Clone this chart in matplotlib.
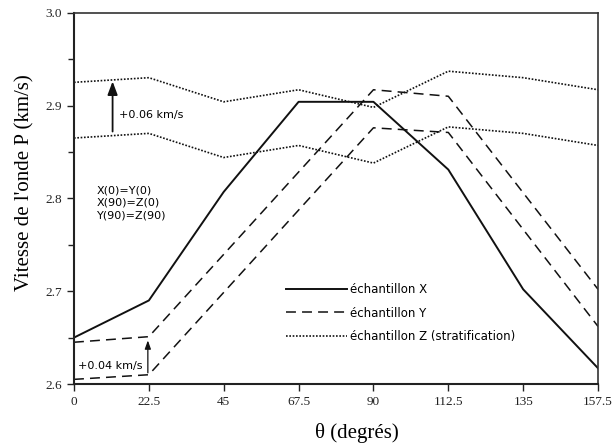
import matplotlib.pyplot as plt

# angles (degres)
theta = [0, 22.5, 45, 67.5, 90, 112.5, 135, 157.5]
theta_y = [0, 22.5, 90, 112.5, 157.5]

# echantillon X
vx = [2.650, 2.690, 2.807, 2.904, 2.904, 2.831, 2.702, 2.617]
# echantillon Y (deux courbes, decalage +0.04 km/s)
vy_haut = [2.645, 2.651, 2.917, 2.910, 2.702]
vy_bas = [2.605, 2.610, 2.876, 2.871, 2.662]
# echantillon Z (deux courbes, decalage +0.06 km/s)
vz_haut = [2.925, 2.930, 2.904, 2.917, 2.898, 2.937, 2.930, 2.917]
vz_bas = [2.865, 2.870, 2.844, 2.857, 2.838, 2.877, 2.870, 2.857]

xticks = [0, 22.5, 45, 67.5, 90, 112.5, 135, 157.5]
xticklabels = ["0", "22.5", "45", "67.5", "90", "112.5", "135", "157.5"]
yticks = [2.6, 2.7, 2.8, 2.9, 3.0]

fig = plt.figure(figsize=(6.14, 4.46), dpi=100)
ax = fig.add_axes([0.1205, 0.139, 0.8535, 0.8325])

ax.plot(theta, vx, color="#111111", lw=1.4, label="échantillon X")
ax.plot(theta_y, vy_haut, color="#111111", lw=1.1, dashes=(6.5, 4),
        label="échantillon Y")
ax.plot(theta_y, vy_bas, color="#111111", lw=1.1, dashes=(6.5, 4))
ax.plot(theta, vz_haut, color="#111111", lw=1.2, dashes=(1.0, 1.0),
        label="échantillon Z (stratification)")
ax.plot(theta, vz_bas, color="#111111", lw=1.2, dashes=(1.0, 1.0))

ax.set_xlim(0, 157.5)
ax.set_ylim(2.6, 3.0)
ax.set_xticks(xticks)
ax.set_xticklabels(xticklabels)
ax.set_yticks(yticks)
ax.set_yticks([2.65, 2.75, 2.85, 2.95], minor=True)
ax.set_yticklabels(["2.6", "2.7", "2.8", "2.9", "3.0"])

serif = "Liberation Serif"
for lab in ax.get_xticklabels() + ax.get_yticklabels():
    lab.set_family(serif)
    lab.set_fontsize(9.5)
ax.tick_params(axis="both", which="both", direction="out", length=5,
               width=1.0, color="#222222", labelcolor="#222222")
ax.tick_params(axis="y", which="minor", length=4)

for s in ["left", "bottom"]:
    ax.spines[s].set_linewidth(1.5)
    ax.spines[s].set_color("#222222")
for s in ["top", "right"]:
    ax.spines[s].set_linewidth(1.2)
    ax.spines[s].set_color("#333333")

ax.set_ylabel("Vitesse de l'onde P (km/s)", family=serif, fontsize=15)
ax.set_xlabel("θ (degrés)", family=serif, fontsize=15)
ax.yaxis.set_label_coords(-0.075, 0.542)
ax.xaxis.set_label_coords(0.54, -0.106)

# fleches de decalage
ax.annotate("", xy=(11.6, 2.926), xytext=(11.6, 2.872),
            arrowprops=dict(arrowstyle="-|>,head_length=0.8,head_width=0.3",
                            color="#111111", lw=1.3, shrinkA=0, shrinkB=0))
ax.text(13.4, 2.890, "+0.06 km/s", fontsize=8, va="center", ha="left")
ax.annotate("", xy=(22.2, 2.647), xytext=(22.2, 2.612),
            arrowprops=dict(arrowstyle="-|>,head_length=0.5,head_width=0.18",
                            color="#111111", lw=0.9, shrinkA=0, shrinkB=0))
ax.text(20.6, 2.619, "+0.04 km/s", fontsize=8, va="center", ha="right")

ax.text(6.9, 2.808, "X(0)=Y(0)", fontsize=8, va="center", ha="left")
ax.text(6.9, 2.795, "X(90)=Z(0)", fontsize=8, va="center", ha="left")
ax.text(6.9, 2.782, "Y(90)=Z(90)", fontsize=8, va="center", ha="left")

ax.legend(loc="upper left", bbox_to_anchor=(0.395, 0.285), frameon=False,
          fontsize=8.5, handlelength=5.2, handletextpad=0.25,
          labelspacing=0.9, borderaxespad=0)

fig.savefig("out.png", dpi=100)
